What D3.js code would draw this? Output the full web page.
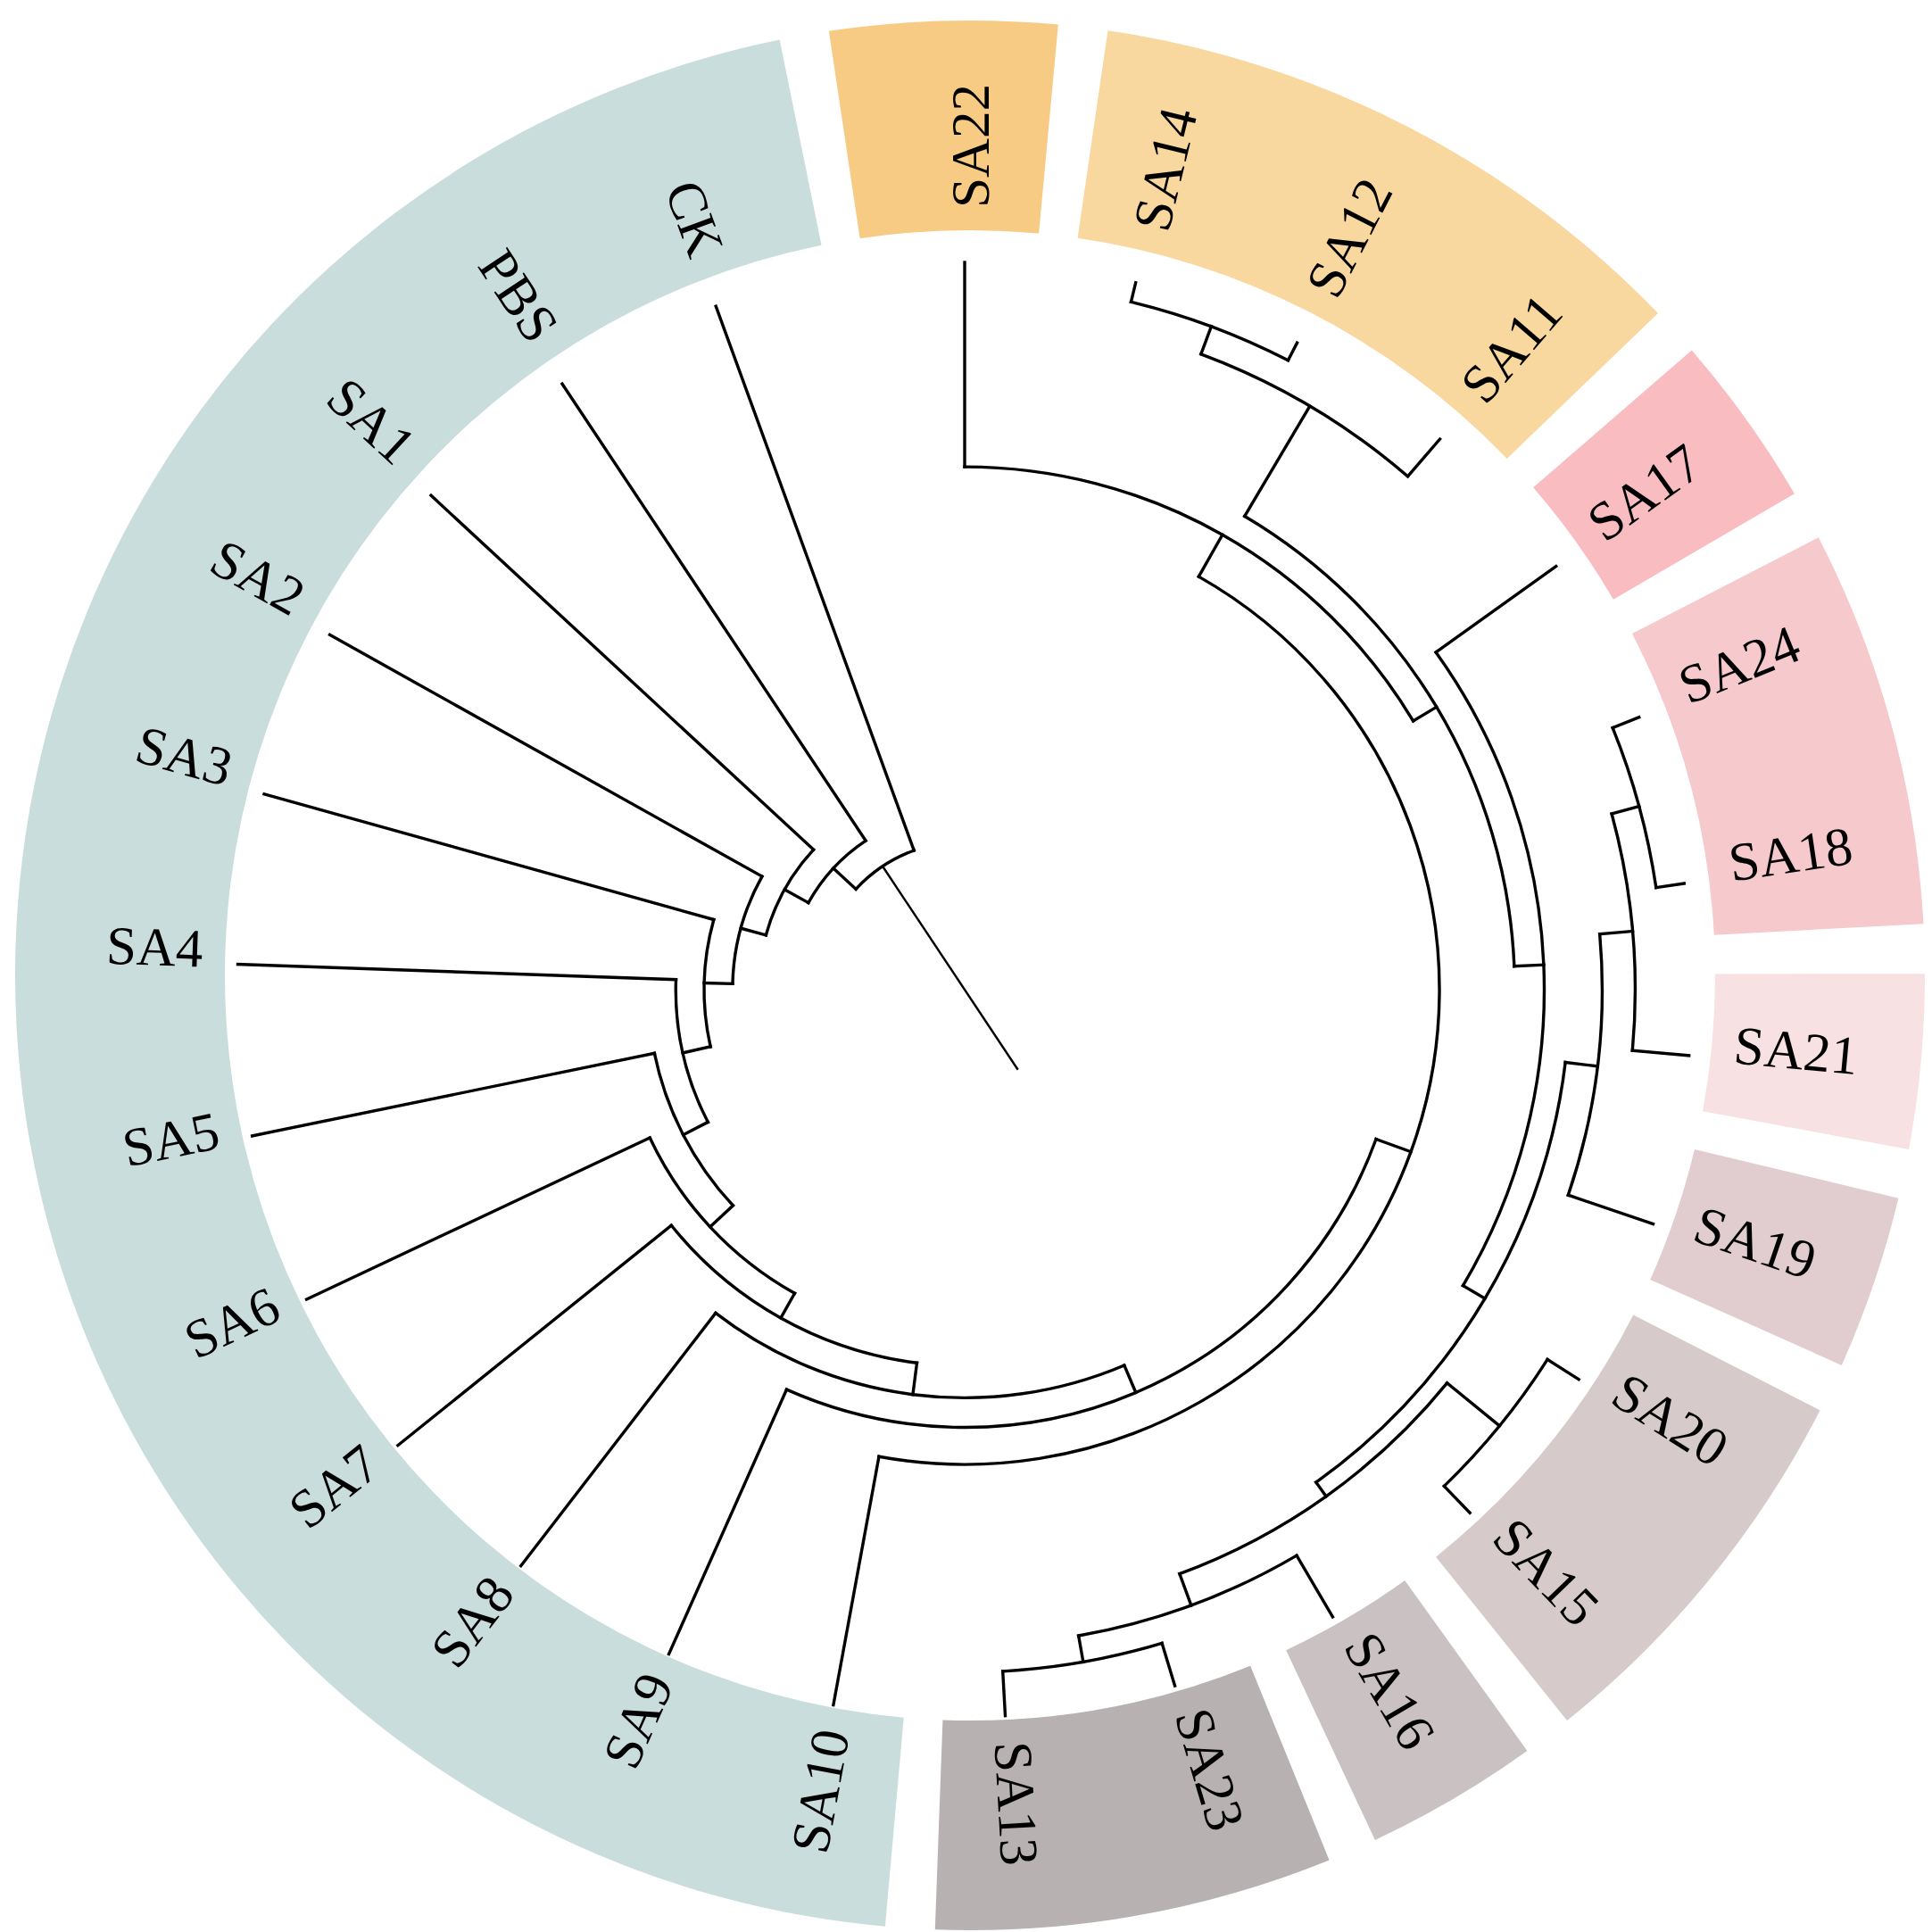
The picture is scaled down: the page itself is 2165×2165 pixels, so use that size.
<!DOCTYPE html>
<html>
<head>
<meta charset="utf-8">
<script src="https://cdn.jsdelivr.net/npm/d3@7"></script>
<style>
  html, body { margin: 0; padding: 0; background: #fff; }
  svg { display: block; }
</style>
</head>
<body>
<div id="chart"></div>
<script>
// leaf order, clockwise from 12 o'clock
const leaves = ["SA22", "SA14", "SA12", "SA11", "SA17", "SA24", "SA18", "SA21", "SA19",
  "SA20", "SA15", "SA16", "SA23", "SA13", "SA10", "SA9", "SA8", "SA7", "SA6", "SA5",
  "SA4", "SA3", "SA2", "SA1", "PBS", "CK"];

// merge steps (numbers point to an earlier step, 1-based) and their heights
const merges = [
  ["SA14", "SA12"], ["SA24", "SA18"], ["SA20", "SA15"], ["SA23", "SA13"],
  ["SA11", 1], [2, "SA21"], ["SA16", 4], [6, "SA19"], [3, 7], [8, 9],
  ["SA17", 10], [5, 11], ["SA22", 12], ["SA10", 13], ["SA9", 14], ["SA8", 15],
  ["SA7", 16], ["SA6", 17], ["SA5", 18], ["SA4", 19], ["SA3", 20], ["SA2", 21],
  ["SA1", 22], ["PBS", 23], ["CK", 24]
];
const heights = [3.4, 4.9, 6.4, 7.7, 8.5, 9.8, 12.3, 15.5, 18.1, 21.1, 25.5, 30.6, 35.3,
  43.6, 50.0, 55.1, 60.6, 65.5, 70.9, 75.7, 80.6, 85.5, 90.0, 94.7, 100];
const rootEdge = 42;

// coloured groups of the outer ring
const groupFirst = ["SA22", "SA14", "SA17", "SA24", "SA21", "SA19", "SA20", "SA16", "SA23", "SA10"];
const groupLast  = ["SA22", "SA11", "SA17", "SA18", "SA21", "SA19", "SA15", "SA16", "SA13", "CK"];
const groupColors = ["#f8cb84", "#f9d8a0", "#f8bcc1", "#f6c9cc", "#f8e1e2",
  "#e1cccf", "#d6caca", "#c9c1c2", "#b8b1b1", "#c9dedc"];

const size = 2165;
const ringCenter = [1087, 1093];
const treeCenter = [1081, 1109];
const toRad = d => d * Math.PI / 180;

const angle = d3.scaleLinear().domain([0, leaves.length - 1]).range([0, 340]);
const radius = d3.scaleLinear().domain([0, 100]).range([815, 166]);
const pad = 1.5;

// angle of the leaf before / after position i, wrapping round the circle
const n = leaves.length;
const prevAngle = i => i === 0 ? angle(n - 1) - 360 : angle(i - 1);
const nextAngle = i => i === n - 1 ? angle(0) + 360 : angle(i + 1);

// nested tree from the merge table
const built = [];
merges.forEach((m, k) => {
  built.push({
    name: "n" + (k + 1),
    h: heights[k],
    children: m.map(c => typeof c === "number" ? built[c - 1] : { name: c, h: 0 })
  });
});
const root = d3.hierarchy(built[built.length - 1]);
root.eachAfter(d => {
  d.a = d.children ? d3.mean(d.children, c => c.a) : angle(leaves.indexOf(d.data.name));
  d.r = radius(d.data.h);
});

const svg = d3.select("#chart").append("svg")
  .attr("width", size)
  .attr("height", size);

svg.append("rect").attr("width", size).attr("height", size).attr("fill", "#fff");

// outer ring
const ring = svg.append("g").attr("transform", `translate(${ringCenter})`);
const band = d3.arc().innerRadius(835).outerRadius(1070);

ring.selectAll("path")
  .data(groupFirst.map((f, i) => {
    const i0 = leaves.indexOf(f), i1 = leaves.indexOf(groupLast[i]);
    return {
      a0: (angle(i0) + prevAngle(i0)) / 2 + pad,
      a1: (angle(i1) + nextAngle(i1)) / 2 - pad,
      color: groupColors[i]
    };
  }))
  .join("path")
  .attr("d", d => band({ startAngle: toRad(d.a0), endAngle: toRad(d.a1) }))
  .attr("fill", d => d.color);

ring.selectAll("text")
  .data(leaves)
  .join("text")
  .attr("transform", (d, i) => {
    const a = angle(i);
    const [x, y] = d3.pointRadial(toRad(a), 860);
    return `translate(${x},${y}) rotate(${a < 180 ? a - 90 : a + 90})`;
  })
  .attr("text-anchor", (d, i) => angle(i) < 180 ? "start" : "end")
  .attr("dominant-baseline", "central")
  .style("font-family", "'Liberation Serif', 'Times New Roman', serif")
  .style("font-size", "61px")
  .style("fill", "#000")
  .text(d => d);

// dendrogram
const tree = svg.append("g")
  .attr("transform", `translate(${treeCenter})`)
  .attr("fill", "none")
  .attr("stroke", "#000")
  .attr("stroke-width", 3.4)
  .attr("stroke-linecap", "square");

tree.selectAll("path.arc")
  .data(root.descendants().filter(d => d.children))
  .join("path")
  .attr("class", "arc")
  .attr("d", d => {
    const [a0, a1] = d3.extent(d.children, c => c.a);
    const p = d3.path();
    p.arc(0, 0, d.r, toRad(a0) - Math.PI / 2, toRad(a1) - Math.PI / 2);
    return p.toString();
  });

tree.selectAll("path.link")
  .data(root.links())
  .join("path")
  .attr("class", "link")
  .attr("d", d => d3.line()([
    d3.pointRadial(toRad(d.target.a), d.source.r),
    d3.pointRadial(toRad(d.target.a), d.target.r)
  ]));

// root edge, runs through the centre
tree.append("path")
  .attr("stroke-width", 2.4)
  .attr("d", d3.line()([
    d3.pointRadial(toRad(root.a), root.r),
    d3.pointRadial(toRad(root.a), radius(root.data.h + rootEdge))
  ]));
</script>
</body>
</html>
